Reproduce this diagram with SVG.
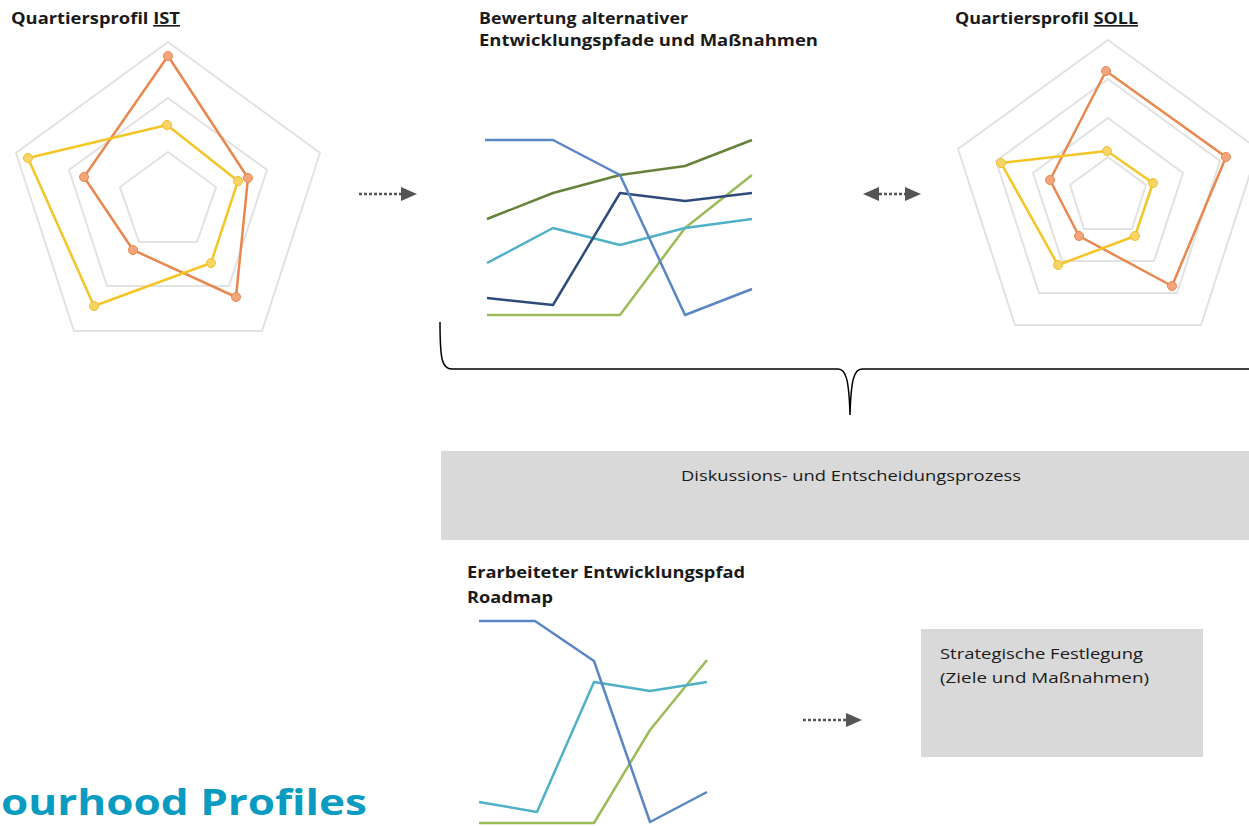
<svg xmlns="http://www.w3.org/2000/svg" width="1249" height="826" viewBox="0 0 1249 826">
<defs>
<style>
.title{font-family:"Open Sans","Liberation Sans",sans-serif;font-weight:bold;font-size:16px;fill:#1a1a1a}
.label{font-family:"Open Sans","Liberation Sans",sans-serif;font-size:15px;fill:#1a1a1a}
.grid{fill:none;stroke:#e2e2e2;stroke-width:2}
.orange{fill:none;stroke:#e8884e;stroke-width:2.5;stroke-linejoin:round}
.yellow{fill:none;stroke:#f3c525;stroke-width:2.5;stroke-linejoin:round}
.odot{fill:#f4a57c;stroke:#e8884e;stroke-width:1}
.ydot{fill:#f7d466;stroke:#f0c02a;stroke-width:1}
.ln{fill:none;stroke-width:2.5;stroke-linejoin:round}
.dots{stroke:#555;stroke-width:2.5;stroke-dasharray:3 2;fill:none}
.head{fill:#555}
.box{fill:#d9d9d9}
</style>
</defs>
<rect width="1249" height="826" fill="#ffffff"/>

<g id="ist">
<text class="title" x="11" y="24" textLength="169" lengthAdjust="spacingAndGlyphs">Quartiersprofil <tspan text-decoration="underline">IST</tspan></text>
<polygon class="grid" points="168,42 320,153 262,331 74,331 16,153"/>
<polygon class="grid" points="168,98 267,170 229,286 107,286 69,170"/>
<polygon class="grid" points="168,152 216,187 197,242 139,242 120,187"/>
<polygon class="orange" points="168,56 248,178 236,297 133,250 84,177"/>
<polygon class="yellow" points="167,125 238,181 211,263 94,306 28,158"/>
<g class="odot"><circle cx="168" cy="56" r="4.5"/><circle cx="248" cy="178" r="4.5"/><circle cx="236" cy="297" r="4.5"/><circle cx="133" cy="250" r="4.5"/><circle cx="84" cy="177" r="4.5"/></g>
<g class="ydot"><circle cx="167" cy="125" r="4.5"/><circle cx="238" cy="181" r="4.5"/><circle cx="211" cy="263" r="4.5"/><circle cx="94" cy="306" r="4.5"/><circle cx="28" cy="158" r="4.5"/></g>
</g>

<g id="bewertung">
<text class="title" x="479" y="24" textLength="209" lengthAdjust="spacingAndGlyphs">Bewertung alternativer</text>
<text class="title" x="479" y="46" textLength="339" lengthAdjust="spacingAndGlyphs">Entwicklungspfade und Maßnahmen</text>
<polyline class="ln" stroke="#9bbb59" points="487,315 620,315 685,228 752,175"/>
<polyline class="ln" stroke="#4fb0c6" points="487,263 553,228 620,245 685,228 752,219"/>
<polyline class="ln" stroke="#2f4b7c" points="487,298 553,305 620,193 685,201 752,193"/>
<polyline class="ln" stroke="#66823a" points="487,219 553,193 620,175 685,166 752,140"/>
<polyline class="ln" stroke="#5b86c5" points="485,140 553,140 620,175 685,315 752,289"/>
</g>

<g id="soll">
<text class="title" x="955" y="24" textLength="183" lengthAdjust="spacingAndGlyphs">Quartiersprofil <tspan text-decoration="underline">SOLL</tspan></text>
<polygon class="grid" points="1108,40 1258,149 1201,325 1015,325 958,149"/>
<polygon class="grid" points="1108,79 1220,161 1177,293 1039,293 996,161"/>
<polygon class="grid" points="1108,118 1183,173 1154,261 1062,261 1033,173"/>
<polygon class="grid" points="1108,157 1146,185 1132,229 1084,229 1070,185"/>
<polygon class="orange" points="1106,71 1226,157 1172,286 1079,236 1050,180"/>
<polygon class="yellow" points="1107,151 1153,183 1135,236 1058,265 1001,163"/>
<g class="odot"><circle cx="1106" cy="71" r="4.5"/><circle cx="1226" cy="157" r="4.5"/><circle cx="1172" cy="286" r="4.5"/><circle cx="1079" cy="236" r="4.5"/><circle cx="1050" cy="180" r="4.5"/></g>
<g class="ydot"><circle cx="1107" cy="151" r="4.5"/><circle cx="1153" cy="183" r="4.5"/><circle cx="1135" cy="236" r="4.5"/><circle cx="1058" cy="265" r="4.5"/><circle cx="1001" cy="163" r="4.5"/></g>
</g>

<g id="diskussion">
<rect class="box" x="441" y="451" width="808" height="89"/>
<text class="label" x="851" y="481" text-anchor="middle" textLength="340" lengthAdjust="spacingAndGlyphs">Diskussions- und Entscheidungsprozess</text>
</g>

<g id="roadmap">
<text class="title" x="467" y="578" textLength="278" lengthAdjust="spacingAndGlyphs">Erarbeiteter Entwicklungspfad</text>
<text class="title" x="467" y="603" textLength="86" lengthAdjust="spacingAndGlyphs">Roadmap</text>
<polyline class="ln" stroke="#9bbb59" points="479,823 594,823 650,730 707,660"/>
<polyline class="ln" stroke="#4fb0c6" points="479,802 537,812 594,682 650,691 707,682"/>
<polyline class="ln" stroke="#5b86c5" points="479,621 535,621 594,661 650,822 707,792"/>
</g>

<g id="strategie">
<rect class="box" x="921" y="629" width="282" height="128"/>
<text class="label" x="940" y="659" font-size="16" textLength="203" lengthAdjust="spacingAndGlyphs">Strategische Festlegung</text>
<text class="label" x="940" y="683" font-size="16" textLength="209" lengthAdjust="spacingAndGlyphs">(Ziele und Maßnahmen)</text>
</g>

<g id="footer">
<text x="1" y="815" font-family="'Open Sans','Liberation Sans',sans-serif" font-weight="bold" font-size="35" fill="#0a9bc1" textLength="366" lengthAdjust="spacingAndGlyphs">ourhood Profiles</text>
</g>

<g id="connectors">
<line class="dots" x1="359" y1="194" x2="401" y2="194"/>
<polygon class="head" points="401,187 417,194 401,201"/>
<line class="dots" x1="879" y1="194" x2="906" y2="194"/>
<polygon class="head" points="879,187 863,194 879,201"/>
<polygon class="head" points="905,187 921,194 905,201"/>
<line class="dots" x1="803" y1="720" x2="846" y2="720"/>
<polygon class="head" points="846,713 862,720 846,727"/>
<path d="M440,322 C440,360 442,369 452,369 L838,369 C846,369 849,380 850,415 C851,380 854,369 862,369 L1249,369" fill="none" stroke="#000" stroke-width="1.5"/>
</g>
</svg>
